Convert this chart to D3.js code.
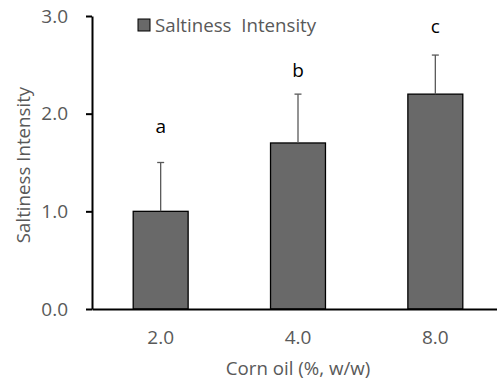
<!DOCTYPE html>
<html>
<head>
<meta charset="utf-8">
<script src="https://cdn.jsdelivr.net/npm/d3@7"></script>
<style>
  body { margin: 0; background: #fff; }
  text { font-family: "Open Sans", "Noto Sans", sans-serif; }
</style>
</head>
<body>
<svg id="chart" width="497" height="383"></svg>
<script>
const categories = ["2.0", "4.0", "8.0"];
const means = [1.0, 1.7, 2.2];
const errors = [0.5, 0.5, 0.4];
const letters = ["a", "b", "c"];
const letterPos = [1.8, 2.38, 2.83]; // height of the significance letters
const yTicks = [0, 1, 2, 3];

const svg = d3.select("#chart");

const x = d3.scaleBand().domain(categories).range([92, 504]).paddingInner(0.6).paddingOuter(0.3);
const y = d3.scaleLinear().domain([0, 3]).range([309, 16]);

// bars
svg.selectAll("rect.bar")
  .data(means)
  .join("rect")
  .attr("class", "bar")
  .attr("x", (d, i) => x(categories[i]))
  .attr("y", d => y(d))
  .attr("width", x.bandwidth())
  .attr("height", d => y(0) - y(d))
  .attr("fill", "#696969")
  .attr("stroke", "#000")
  .attr("stroke-width", 1.3);

// error bars (upper only)
const cx = i => x(categories[i]) + x.bandwidth() / 2;
svg.selectAll("line.err")
  .data(means)
  .join("line")
  .attr("x1", (d, i) => cx(i)).attr("x2", (d, i) => cx(i))
  .attr("y1", d => y(d)).attr("y2", (d, i) => y(d + errors[i]))
  .attr("stroke", "#595959").attr("stroke-width", 1.3);
svg.selectAll("line.cap")
  .data(means)
  .join("line")
  .attr("x1", (d, i) => cx(i) - 3.5).attr("x2", (d, i) => cx(i) + 3.5)
  .attr("y1", (d, i) => y(d + errors[i])).attr("y2", (d, i) => y(d + errors[i]))
  .attr("stroke", "#595959").attr("stroke-width", 1.3);

// letters
svg.selectAll("text.sig")
  .data(letters)
  .join("text")
  .attr("x", (d, i) => cx(i))
  .attr("y", (d, i) => y(letterPos[i]))
  .attr("text-anchor", "middle")
  .attr("font-size", 19)
  .attr("fill", "#000")
  .text(d => d);

// y axis
const yAxis = svg.append("g")
  .attr("transform", "translate(92,0)")
  .call(d3.axisLeft(y).tickValues(yTicks).tickFormat(d3.format(".1f")).tickSize(6).tickSizeOuter(0));
yAxis.select(".domain").attr("stroke", "#000").attr("stroke-width", 2);
yAxis.selectAll(".tick line").attr("stroke", "#000").attr("stroke-width", 2);
yAxis.selectAll(".tick text").attr("font-size", 19).attr("fill", "#595959").attr("x", -24)
  .style("font-family", "'Open Sans', sans-serif");

// x axis
const xAxis = svg.append("g")
  .attr("transform", `translate(0,${y(0)})`)
  .call(d3.axisBottom(x).tickSize(0).tickPadding(22).tickSizeOuter(0));
xAxis.select(".domain").attr("stroke", "#000").attr("stroke-width", 2);
xAxis.selectAll(".tick text").attr("font-size", 19).attr("fill", "#595959")
  .style("font-family", "'Open Sans', sans-serif");

// axis titles
svg.append("text")
  .attr("x", 298).attr("y", 375)
  .attr("text-anchor", "middle")
  .attr("font-size", 18.7).attr("fill", "#595959")
  .text("Corn oil (%, w/w)");
svg.append("text")
  .attr("transform", "translate(30,165) rotate(-90)")
  .attr("text-anchor", "middle")
  .attr("font-size", 18.7).attr("fill", "#595959")
  .text("Saltiness Intensity");

// legend
svg.append("rect")
  .attr("x", 138).attr("y", 19).attr("width", 12).attr("height", 12)
  .attr("fill", "#696969").attr("stroke", "#000").attr("stroke-width", 1);
svg.append("text")
  .attr("x", 155).attr("y", 32)
  .attr("font-size", 18.7).attr("fill", "#595959")
  .attr("xml:space", "preserve")
  .text("Saltiness  Intensity");
</script>
</body>
</html>
